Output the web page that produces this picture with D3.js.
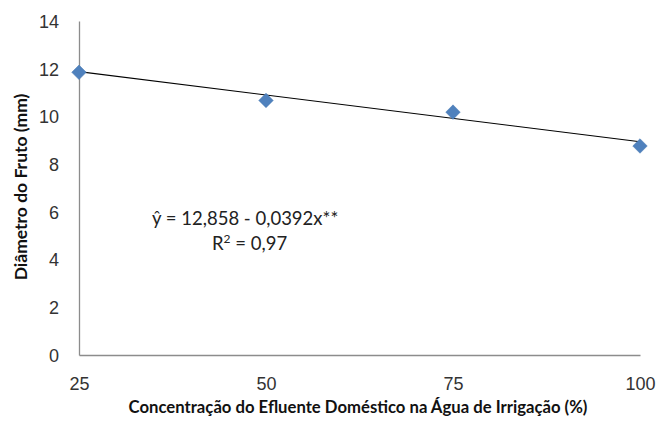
<!DOCTYPE html>
<html>
<head>
<meta charset="utf-8">
<script src="https://cdn.jsdelivr.net/npm/d3@7"></script>
<style>
  body { margin: 0; background: #fff; }
  svg { font-family: Lato, "Open Sans", sans-serif; }
</style>
</head>
<body>
<svg width="659" height="425"></svg>
<script>
// chart values
var CONCENTRATION = [25, 50, 75, 100];
var DIAMETER = [11.85, 10.67, 10.18, 8.76];
var Y_TICKS = [0, 2, 4, 6, 8, 10, 12, 14];
var FIT_INTERCEPT = 12.858;
var FIT_SLOPE = -0.0392;

var svg = d3.select("svg"),
  margin = { top: 21, right: 19, bottom: 70, left: 79 },
  width = svg.attr("width") - margin.left - margin.right,
  height = svg.attr("height") - margin.top - margin.bottom;

var xScale = d3.scaleLinear().domain([25, 100]).range([0, width]),
  yScale = d3.scaleLinear().domain([0, 14]).range([height, 0]);

var g = svg.append("g")
  .attr("transform", "translate(" + margin.left + "," + margin.top + ")");

// axes (no tick marks, Excel style)
var xAxis = d3.axisBottom(xScale).tickValues(CONCENTRATION).tickSize(0).tickPadding(22);
var yAxis = d3.axisLeft(yScale).tickValues(Y_TICKS).tickSize(0).tickPadding(20);

var gx = g.append("g").attr("transform", "translate(0," + height + ")").call(xAxis);
var gy = g.append("g").call(yAxis);

[gx, gy].forEach(function (ax) {
  ax.select(".domain").attr("stroke", "#8c8c8c").attr("stroke-width", 1.3);
  ax.selectAll("text")
    .style("font-size", "18px")
    .style("fill", "#333");
});
gy.selectAll("text").attr("dy", "0.35em");

// regression line
var fit = d3.line()
  .x(function (d) { return xScale(d); })
  .y(function (d) { return yScale(FIT_INTERCEPT + FIT_SLOPE * d); });

g.append("path")
  .datum([25, 100])
  .attr("d", fit)
  .style("fill", "none")
  .style("stroke", "#000")
  .style("stroke-width", 1.2);

// diamond markers
var diamond = d3.symbol().type(d3.symbolDiamond2).size(135);
g.selectAll(".pt")
  .data(CONCENTRATION.map(function (c, i) { return [c, DIAMETER[i]]; }))
  .enter()
  .append("path")
  .attr("class", "pt")
  .attr("d", diamond)
  .attr("transform", function (d) {
    return "translate(" + xScale(d[0]) + "," + yScale(d[1]) + ")";
  })
  .style("fill", "#4f81bd")
  .style("stroke", "#4a7ab3")
  .style("stroke-width", 0.5);

// equation
svg.append("text")
  .attr("x", 152)
  .attr("y", 225)
  .style("font-size", "18.5px")
  .style("fill", "#222")
  .text("ŷ = 12,858 - 0,0392x**");

var r2 = svg.append("text")
  .attr("x", 212)
  .attr("y", 250)
  .style("font-size", "18.5px")
  .style("fill", "#222");
r2.append("tspan").text("R");
r2.append("tspan").attr("dy", -7).style("font-size", "12px").text("2");
r2.append("tspan").attr("dy", 7).text(" = 0,97");

// X label
svg.append("text")
  .attr("x", 358)
  .attr("y", 413)
  .attr("text-anchor", "middle")
  .style("font-size", "16.7px")
  .style("font-weight", "bold")
  .style("fill", "#111")
  .text("Concentração do Efluente Doméstico na Água de Irrigação (%)");

// Y label
svg.append("text")
  .attr("text-anchor", "middle")
  .attr("transform", "translate(27,187)rotate(-90)")
  .style("font-size", "17.5px")
  .style("font-weight", "bold")
  .style("fill", "#111")
  .text("Diâmetro do Fruto (mm)");
</script>
</body>
</html>
